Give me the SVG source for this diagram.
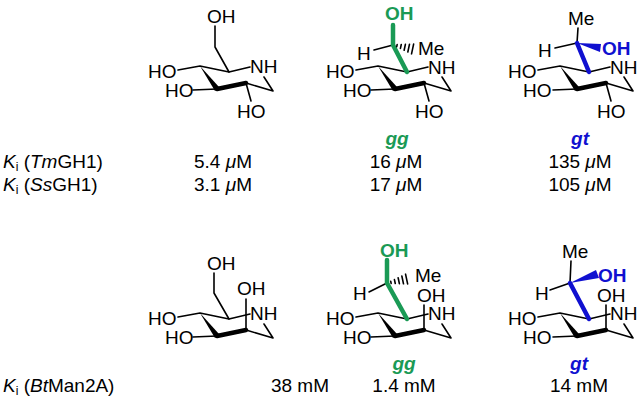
<svg xmlns="http://www.w3.org/2000/svg" width="642" height="405" viewBox="0 0 642 405">
<style>
text{font-family:"Liberation Sans",Arial,sans-serif;font-size:19px;fill:#000}
.b{stroke:#000;stroke-width:1.6;fill:none;stroke-linecap:round;stroke-linejoin:round}
.k{stroke:#000;stroke-width:4.5;fill:none;stroke-linecap:round;stroke-linejoin:round}
.g{stroke:#1a9a55;stroke-width:4.5;fill:none;stroke-linecap:round;stroke-linejoin:round}
.u{stroke:#1010d0;stroke-width:4.5;fill:none;stroke-linecap:round;stroke-linejoin:round}
.gt{fill:#1a9a55;font-weight:bold}
.bt{fill:#1010d0;font-weight:bold}
.c{text-anchor:middle}
.i{font-style:italic}
</style>
<defs>
<g id="ring">
<path class="b" d="M178,70 L200,66 L229,72 L250,67 M264,77 L273,91 L246,83 M193,90 L217,89"/>
<polygon points="200,66 215,91 219,87"/>
<path class="k" d="M217,89 L246,83"/>
</g>
<g id="hash">
<path class="b" stroke-width="1.3" d="M3,-1 L3,1 M7,-2 L7,2 M11,-3 L11,3 M15,-4 L15,4 M19,-5 L19,5"/>
</g>
</defs>
<g id="connectors"/>
<g id="mol1">
<use href="#ring"/>
<path class="b" d="M215,26 L215,47 L229,72 M246,83 L251,101"/>
<text x="207" y="23">OH</text><text x="148" y="78">HO</text><text x="165" y="97">HO</text><text x="250" y="73">NH</text><text x="237" y="118">HO</text>
</g>
<g id="mol2">
<use href="#ring" transform="translate(178,0)"/>
<path class="b" d="M424,83 L429,101 M374,50 L393,45"/>
<path class="g" d="M393,25 L393,45 L407,72"/>
<use href="#hash" transform="translate(394,45) rotate(12)"/>
<text x="385" y="20" class="gt">OH</text><text x="357" y="60">H</text><text x="418" y="55">Me</text>
<text x="326" y="78">HO</text><text x="343" y="97">HO</text><text x="428" y="74">NH</text><text x="415" y="118">HO</text>
</g>
<g id="mol3">
<use href="#ring" transform="translate(360,0)"/>
<path class="b" d="M606,83 L611,101 M555,48 L577,43 M578,28 L577,43"/>
<path class="u" d="M577,43 L589,72"/>
<polygon points="577,43 601,44 600,52" fill="#1010d0"/>
<text x="568" y="25">Me</text><text x="538" y="57">H</text><text x="602" y="55" class="bt">OH</text>
<text x="508" y="78">HO</text><text x="523" y="97">HO</text><text x="610" y="74">NH</text><text x="597" y="118">HO</text>
</g>
<g id="mol4">
<use href="#ring" transform="translate(0,247)"/>
<path class="b" d="M214,273 L214,293 L229,319 M246,330 L246,299"/>
<text x="207" y="270">OH</text><text x="237" y="295">OH</text><text x="148" y="325">HO</text><text x="165" y="344">HO</text><text x="250" y="320">NH</text>
</g>
<g id="mol5">
<use href="#ring" transform="translate(178,247)"/>
<path class="b" d="M424,330 L424,305 M369,292 L387,283"/>
<path class="g" d="M387,260 L387,283 L407,319"/>
<use href="#hash" transform="translate(388,283) rotate(-12)"/>
<text x="380" y="257" class="gt">OH</text><text x="353" y="300">H</text><text x="415" y="282">Me</text><text x="417" y="302">OH</text>
<text x="326" y="325">HO</text><text x="343" y="344">HO</text><text x="428" y="320">NH</text>
</g>
<g id="mol6">
<use href="#ring" transform="translate(360,247)"/>
<path class="b" d="M606,330 L606,305 M550,290 L570,283 M571,261 L570,283"/>
<path class="u" d="M570,283 L589,319"/>
<polygon points="570,283 596,270 599,278" fill="#1010d0"/>
<text x="562" y="258">Me</text><text x="535" y="300">H</text><text x="598" y="282" class="bt">OH</text><text x="597" y="302">OH</text>
<text x="508" y="325">HO</text><text x="523" y="344">HO</text><text x="610" y="320">NH</text>
</g>
<g id="labels">
<text x="397" y="145" class="c gt i">gg</text><text x="580" y="145" class="c bt i">gt</text>
<text x="3" y="168"><tspan class="i">K</tspan><tspan font-size="12" dy="3">i</tspan><tspan dy="-3"> (</tspan><tspan class="i">Tm</tspan>GH1)</text>
<text x="3" y="191"><tspan class="i">K</tspan><tspan font-size="12" dy="3">i</tspan><tspan dy="-3"> (</tspan><tspan class="i">Ss</tspan>GH1)</text>
<text x="223" y="168" class="c">5.4 <tspan class="i">μ</tspan>M</text><text x="223" y="191" class="c">3.1 <tspan class="i">μ</tspan>M</text>
<text x="396" y="168" class="c">16 <tspan class="i">μ</tspan>M</text><text x="396" y="191" class="c">17 <tspan class="i">μ</tspan>M</text>
<text x="580" y="168" class="c">135 <tspan class="i">μ</tspan>M</text><text x="580" y="191" class="c">105 <tspan class="i">μ</tspan>M</text>
<text x="404" y="370" class="c gt i">gg</text><text x="579" y="370" class="c bt i">gt</text>
<text x="3" y="392"><tspan class="i">K</tspan><tspan font-size="12" dy="3">i</tspan><tspan dy="-3"> (</tspan><tspan class="i">Bt</tspan>Man2A)</text>
<text x="300" y="392" class="c">38 mM</text><text x="404" y="392" class="c">1.4 mM</text><text x="579" y="392" class="c">14 mM</text>
</g>
</svg>
